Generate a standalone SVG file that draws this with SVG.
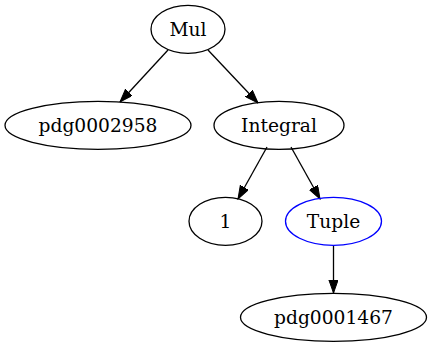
<svg xmlns="http://www.w3.org/2000/svg" width="432" height="347" viewBox="0 0 432 347">
<style>
.n ellipse{fill:none;stroke:#000;stroke-width:1.3}
.n text{font-family:"DejaVu Serif",serif;font-size:18.67px;text-anchor:middle;fill:#000}
#edges line{stroke:#000;stroke-width:1.3;marker-end:url(#ah)}
</style>
<defs>
<marker id="ah" markerUnits="userSpaceOnUse" markerWidth="14" markerHeight="10" refX="13.3" refY="4.7" orient="auto" viewBox="0 0 14 10">
<path d="M0,0 L13.3,4.7 L0,9.4 Z" fill="#000" stroke="#000" stroke-width="1"/>
</marker>
</defs>
<rect width="432" height="347" fill="#fff"/>
<g id="edges">
<line x1="168" y1="50" x2="120" y2="102"/>
<line x1="208" y1="50" x2="258" y2="103"/>
<line x1="267" y1="147" x2="238" y2="199"/>
<line x1="291" y1="147" x2="320" y2="199"/>
<line x1="333.5" y1="245" x2="333.5" y2="293"/>
</g>
<g id="Mul" class="n"><ellipse cx="188" cy="29.3" rx="37" ry="24"/><text x="188" y="35.5">Mul</text></g>
<g id="pdg0002958" class="n"><ellipse cx="98" cy="125.3" rx="93" ry="24"/><text x="98" y="131.5">pdg0002958</text></g>
<g id="Integral" class="n"><ellipse cx="279" cy="125.3" rx="65" ry="24"/><text x="279" y="131.5">Integral</text></g>
<g id="one" class="n"><ellipse cx="225.5" cy="221.3" rx="36.5" ry="24"/><text x="225.5" y="227.5">1</text></g>
<g id="Tuple" class="n"><ellipse cx="333.5" cy="221.3" rx="48" ry="24" style="stroke:#0000ff"/><text x="333.5" y="227.5">Tuple</text></g>
<g id="pdg0001467" class="n"><ellipse cx="333.5" cy="317.3" rx="93" ry="24"/><text x="333.5" y="323.5">pdg0001467</text></g>
</svg>
